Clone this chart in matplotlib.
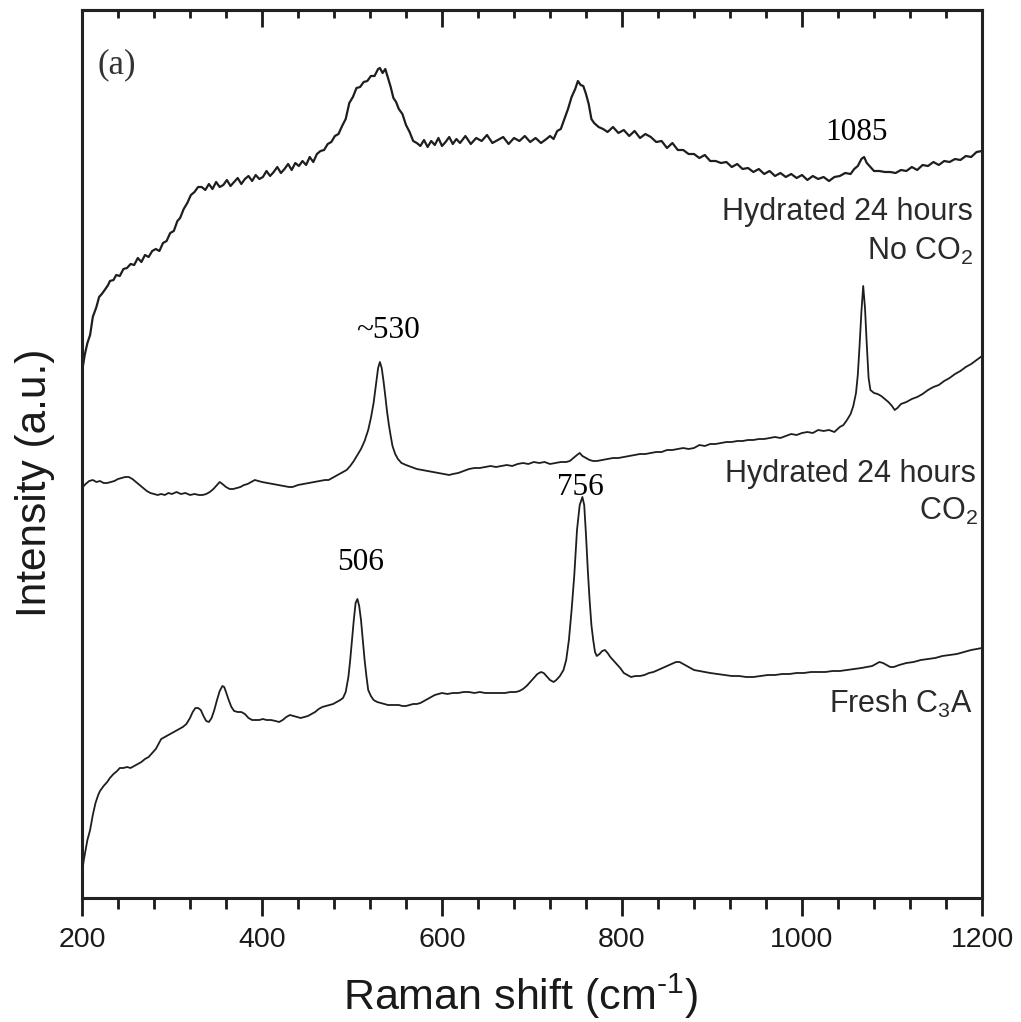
import matplotlib
matplotlib.use("Agg")
import matplotlib.pyplot as plt
from matplotlib.ticker import MultipleLocator

plt.rcParams["font.family"] = ["Liberation Sans", "DejaVu Sans"]
plt.rcParams["mathtext.fontset"] = "custom"
plt.rcParams["mathtext.rm"] = "Liberation Sans"
plt.rcParams["mathtext.it"] = "Liberation Sans:italic"
plt.rcParams["mathtext.default"] = "regular"

# Raman shift (cm^-1) and stacked intensity (a.u.) for each spectrum
shift_no_co2 = [
    200, 203, 206, 209, 212, 216, 219, 222, 226, 229, 231, 235, 238, 242, 246, 250,
    254, 258, 262, 266, 270, 274, 278, 282, 286, 290, 294, 298, 302, 306, 309, 313,
    317, 321, 325, 329, 333, 337, 341, 345, 349, 353, 357, 361, 365, 369, 373, 377,
    381, 385, 389, 393, 397, 401, 405, 409, 413, 417, 421, 425, 429, 433, 437, 441,
    445, 449, 453, 457, 461, 465, 469, 473, 477, 481, 485, 489, 493, 497, 501, 505,
    509, 513, 517, 521, 525, 529, 531, 534, 537, 540, 543, 546, 549, 552, 556, 560,
    564, 568, 572, 576, 580, 584, 588, 592, 596, 600, 604, 608, 612, 616, 620, 626,
    632, 638, 644, 650, 656, 662, 668, 674, 680, 686, 692, 698, 704, 710, 716, 720,
    724, 728, 732, 736, 740, 744, 748, 751, 754, 757, 760, 763, 766, 769, 774, 779,
    784, 790, 796, 802, 808, 814, 820, 826, 832, 838, 844, 850, 856, 862, 868, 874,
    880, 886, 892, 898, 904, 910, 916, 922, 928, 934, 940, 946, 952, 958, 964, 970,
    976, 982, 988, 994, 1000, 1006, 1012, 1018, 1024, 1030, 1036, 1042, 1048, 1054,
    1058, 1062, 1066, 1069, 1072, 1076, 1080, 1086, 1092, 1098, 1104, 1110, 1116,
    1122, 1128, 1134, 1140, 1146, 1152, 1158, 1164, 1170, 1176, 1182, 1188, 1194, 1200,
]
intensity_no_co2 = [
    526, 543, 555, 563, 581, 591, 601, 604, 609, 613, 617, 618, 623, 622, 629, 630,
    634, 633, 640, 636, 643, 641, 647, 649, 647, 655, 657, 665, 667, 677, 680, 689,
    695, 703, 706, 711, 711, 708, 714, 709, 716, 711, 713, 718, 712, 716, 720, 714,
    719, 722, 717, 723, 719, 721, 727, 722, 726, 731, 725, 729, 734, 728, 735, 732,
    737, 733, 741, 736, 744, 747, 748, 754, 756, 762, 764, 772, 779, 795, 801, 810,
    811, 816, 817, 822, 822, 829, 830, 825, 829, 820, 811, 800, 796, 789, 784, 773,
    766, 757, 755, 752, 758, 751, 757, 753, 760, 752, 756, 761, 754, 759, 755, 762,
    754, 760, 757, 763, 755, 758, 761, 754, 760, 757, 762, 756, 760, 755, 759, 762,
    759, 767, 769, 779, 789, 801, 809, 817, 813, 812, 804, 794, 779, 775, 771, 769,
    766, 771, 765, 768, 762, 767, 760, 764, 761, 756, 757, 750, 755, 748, 748, 744,
    744, 740, 743, 737, 737, 735, 736, 731, 734, 729, 730, 726, 729, 724, 727, 722,
    725, 721, 724, 720, 723, 718, 722, 719, 721, 717, 721, 722, 725, 724,
    729, 732, 739, 741, 735, 731, 727, 727, 726, 726, 725, 728, 727,
    731, 728, 733, 732, 736, 733, 737, 736, 739, 738, 742, 741, 746, 747,
]

shift_co2 = [
    200, 204, 208, 212, 216, 220, 224, 228, 232, 236, 240, 244, 248, 252, 256, 260,
    264, 268, 272, 276, 280, 284, 288, 292, 296, 300, 305, 310, 315, 320, 325, 330,
    334, 338, 342, 346, 350, 353, 356, 360, 364, 368, 372, 376, 380, 384, 388, 392,
    396, 400, 406, 412, 418, 424, 430, 434, 440, 446, 452, 458, 464, 470, 474, 478,
    482, 486, 490, 494, 498, 502, 506, 510, 514, 518, 521, 524, 527, 529, 531, 533,
    535, 537, 539, 541, 543, 545, 548, 551, 555, 560, 566, 572, 578, 584, 590, 596,
    602, 608, 612, 618, 624, 630, 636, 642, 648, 654, 660, 666, 672, 678, 684, 690,
    696, 702, 708, 714, 720, 726, 732, 738, 742, 746, 750, 753, 756, 760, 764, 768,
    772, 778, 784, 790, 796, 802, 808, 814, 820, 826, 832, 838, 844, 850, 856, 862,
    868, 874, 880, 886, 892, 898, 904, 910, 916, 922, 928, 934, 940, 946, 952, 958,
    964, 970, 976, 982, 988, 994, 1000, 1006, 1012, 1018, 1024, 1030, 1036, 1042,
    1046, 1050, 1054, 1057, 1060, 1062, 1064, 1066, 1068, 1070, 1072, 1074, 1076,
    1080, 1084, 1088, 1092, 1096, 1100, 1103, 1106, 1110, 1116, 1122, 1128, 1134,
    1140, 1146, 1152, 1158, 1164, 1170, 1176, 1182, 1188, 1194, 1200,
]
intensity_co2 = [
    410, 414, 417, 418, 416, 417, 415, 415, 416, 417, 419, 420, 421, 421, 419, 416,
    413, 410, 407, 405, 404, 403, 404, 403, 405, 404, 406, 404, 405, 403, 404, 403,
    403, 404, 406, 409, 413, 416, 414, 411, 409, 409, 410, 411, 413, 414, 416, 418,
    417, 416, 415, 414, 413, 412, 411, 411, 413, 414, 415, 416, 417, 418, 418, 420,
    422, 424, 426, 428, 432, 437, 443, 449, 457, 468, 480, 495, 516, 530, 536, 530,
    517, 502, 486, 473, 462, 452, 444, 439, 435, 433, 431, 429, 428, 427, 426, 425,
    424, 423, 424, 425, 427, 429, 430, 430, 431, 432, 431, 432, 433, 432, 434, 435,
    434, 436, 435, 436, 434, 435, 436, 436, 437, 440, 443, 445, 442, 440, 438, 437,
    437, 438, 439, 440, 440, 441, 442, 443, 444, 444, 445, 446, 446, 448, 448, 449,
    450, 449, 450, 453, 452, 454, 454, 455, 456, 456, 457, 457, 458, 458, 459, 459,
    460, 461, 460, 462, 464, 463, 465, 466, 465, 468, 467, 468, 466, 471,
    473, 478, 484, 492, 505, 523, 553, 586, 612, 590, 553, 520, 508,
    505, 504, 502, 499, 496, 492, 488, 490, 494, 496, 499, 501, 504,
    508, 511, 513, 517, 520, 524, 527, 531, 534, 538, 542,
]

shift_fresh = [
    200, 202, 204, 206, 209, 212, 215, 218, 220, 224, 228, 231, 235, 239, 242, 246,
    250, 254, 258, 262, 266, 270, 274, 278, 282, 285, 288, 292, 296, 300, 304, 308,
    312, 316, 320, 323, 326, 329, 332, 335, 338, 341, 344, 347, 350, 353, 356, 358,
    360, 363, 366, 369, 373, 377, 381, 385, 389, 393, 397, 401, 405, 410, 415, 419,
    423, 427, 431, 435, 439, 443, 447, 451, 455, 459, 463, 467, 471, 475, 479, 483,
    487, 490, 493, 496, 498, 500, 502, 504, 506, 508, 510, 512, 514, 516, 518, 521,
    524, 528, 532, 536, 540, 544, 548, 552, 556, 560, 564, 568, 572, 576, 580, 584,
    588, 592, 596, 600, 606, 612, 618, 624, 630, 636, 642, 648, 654, 660, 664, 670,
    676, 682, 686, 690, 694, 698, 702, 706, 710, 713, 716, 720, 724, 727, 731, 735,
    738, 741, 744, 747, 750, 753, 756, 758, 760, 762, 764, 766, 768, 770, 772, 775,
    778, 781, 784, 787, 790, 794, 798, 802, 806, 810, 815, 820, 825, 830, 835, 840,
    845, 850, 855, 860, 864, 868, 872, 876, 880, 886, 892, 898, 906, 914, 922, 930,
    938, 946, 954, 962, 970, 978, 986, 994, 1002, 1010, 1018, 1026, 1034, 1042,
    1050, 1058, 1066, 1072, 1078, 1082, 1086, 1090, 1094, 1098, 1102, 1108, 1116,
    1124, 1132, 1140, 1148, 1156, 1164, 1172, 1180, 1188, 1194, 1200,
]
intensity_fresh = [
    25, 38, 48, 58, 68, 83, 95, 103, 107, 112, 116, 120, 124, 127, 130, 130,
    131, 130, 132, 134, 136, 139, 141, 145, 149, 154, 159, 161, 163, 165, 167, 169,
    171, 174, 180, 186, 190, 190, 188, 182, 177, 176, 180, 188, 198, 207, 212, 211,
    206, 198, 191, 187, 186, 186, 184, 180, 178, 178, 178, 179, 178, 178, 177, 176,
    178, 181, 183, 182, 181, 180, 181, 182, 184, 186, 189, 191, 192, 193, 194, 196,
    198, 200, 206, 221, 238, 258, 278, 295, 299, 292, 278, 258, 238, 222, 208, 202,
    198, 196, 195, 194, 193, 193, 193, 193, 192, 192, 193, 194, 194, 195, 197, 199,
    201, 203, 204, 205, 204, 205, 205, 206, 206, 205, 206, 205, 205, 205, 205, 205,
    206, 206, 207, 209, 212, 216, 220, 224, 226, 225, 222, 218, 216, 218, 222, 228,
    238, 258, 288, 323, 368, 393, 401, 393, 363, 328, 298, 273, 258, 246, 242, 244,
    247, 248, 245, 241, 238, 234, 230, 225, 223, 221, 222, 222, 223, 225, 226, 228,
    230, 232, 234, 236, 236, 234, 232, 230, 228, 227, 226, 225, 224, 223, 222, 222,
    221, 221, 222, 223, 223, 224, 224, 225, 225, 226, 226, 226, 227, 227,
    228, 229, 230, 231, 232, 234, 236, 235, 233, 231, 231, 233, 235,
    236, 238, 239, 240, 242, 243, 244, 246, 248, 249, 250,
]

# peak annotations
peak_labels = ["1085", "~530", "756", "506"]
peak_x = [1061, 540, 754, 509]
peak_y = [758, 560, 403, 328]

# sample names, right-aligned next to each trace
sample_labels = ["Hydrated 24 hours", "No CO$_2$", "Hydrated 24 hours",
                 "CO$_2$", "Fresh C$_3$A"]
sample_x = [1190, 1190, 1193, 1195, 1190]
sample_y = [678, 638, 416, 378, 185]

fig = plt.figure(figsize=(10.21, 10.22), dpi=100)
ax = fig.add_axes([82 / 1021, 1 - 898 / 1022, 900 / 1021, 888 / 1022])

line_color = "#1e1e1e"
ax.plot(shift_no_co2, intensity_no_co2, color=line_color, lw=1.6)
ax.plot(shift_co2, intensity_co2, color=line_color, lw=1.3)
ax.plot(shift_fresh, intensity_fresh, color=line_color, lw=1.3)

ax.set_xlim(200, 1200)
ax.set_ylim(0, 888)

for side in ["left", "right", "top", "bottom"]:
    ax.spines[side].set_linewidth(2.2)
    ax.spines[side].set_color("#222222")

ax.xaxis.set_major_locator(MultipleLocator(200))
ax.xaxis.set_minor_locator(MultipleLocator(40))
ax.tick_params(axis="x", which="major", direction="out", length=13, width=2.0,
               labelsize=20.5, pad=8, colors="#1a1a1a", top=False)
ax.tick_params(axis="x", which="minor", direction="out", length=8, width=2.0,
               top=False, colors="#1a1a1a")
ax.tick_params(axis="y", left=False, right=False, labelleft=False)

top = ax.secondary_xaxis("top")
top.xaxis.set_major_locator(MultipleLocator(200))
top.xaxis.set_minor_locator(MultipleLocator(40))
top.tick_params(which="major", direction="in", length=12, width=2.0,
                labeltop=False, colors="#1a1a1a")
top.tick_params(which="minor", direction="in", length=6, width=2.0,
                colors="#1a1a1a")
top.spines["top"].set_linewidth(2.2)

ax.set_xlabel("Raman shift (cm$^{\u2010 1}$)", fontsize=31, color="#1a1a1a")
ax.xaxis.set_label_coords(0.487, (898 - 1010) / 888)
ax.xaxis.label.set_va("baseline")

ax.set_ylabel("Intensity (a.u.)", fontsize=30.5, color="#1a1a1a")
ax.yaxis.set_label_coords(-0.052, 0.468)
ax.yaxis.label.set_va("center")

ax.text(217, 825, "(a)", family=["Liberation Serif"], fontsize=25,
        ha="left", va="baseline", color="#333333")

for label, x, y in zip(peak_labels, peak_x, peak_y):
    ax.text(x, y, label, family=["Liberation Serif"], fontsize=22.5,
            ha="center", va="baseline", color="black")

for label, x, y in zip(sample_labels, sample_x, sample_y):
    ax.text(x, y, label, fontsize=22, ha="right", va="baseline",
            color="#2a2a2a")

fig.savefig("out.png", dpi=100)
